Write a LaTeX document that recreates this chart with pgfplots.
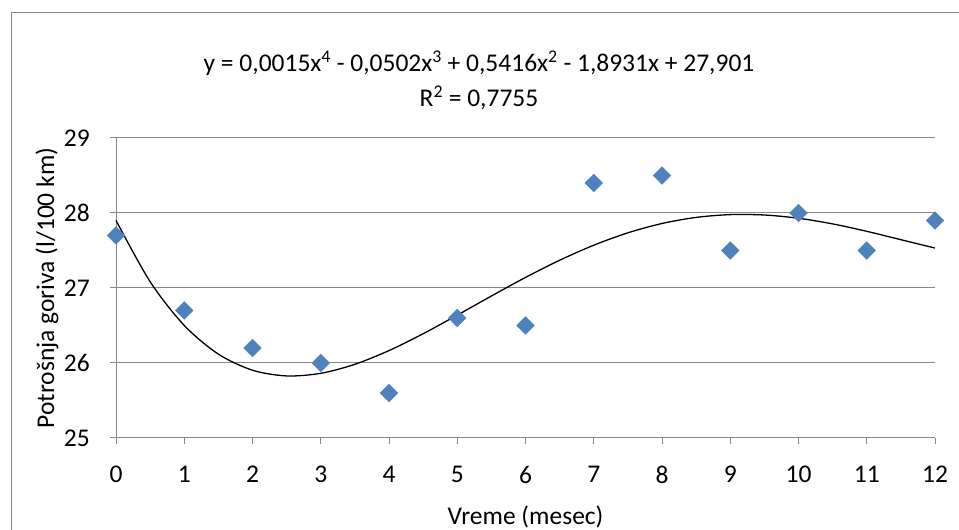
\documentclass[border=0pt]{standalone}
\usepackage{fontspec}
\setmainfont{Carlito}
\usepackage{pgfplots}
\pgfplotsset{compat=1.18}
\definecolor{mblue}{HTML}{4F81BD}
\definecolor{ggray}{HTML}{868686}
\newcommand\cf{\fontsize{25.5}{30}\selectfont}
\begin{document}
\begin{tikzpicture}[x=1pt,y=1pt]
\useasboundingbox (0,0) rectangle (959,530);
\clip (0,0) rectangle (959,530);
\draw[ggray, line width=1pt] (11,-20) -- (11,517) -- (980,517);
\node[font=\cf, anchor=base] at (479,458) {y = 0,0015x\textsuperscript{4} - 0,0502x\textsuperscript{3} + 0,5416x\textsuperscript{2} - 1,8931x + 27,901};
\node[font=\cf, anchor=base] at (479,423) {R\textsuperscript{2} = 0,7755};
\begin{axis}[
  at={(116pt,92pt)}, anchor=south west,
  scale only axis, width=819pt, height=300pt,
  xmin=0, xmax=12, ymin=25, ymax=29,
  xtick={0,...,12}, ytick={25,...,29},
  axis x line*=bottom, axis y line*=left,
  axis line style={ggray, line width=1pt, -},
  tick style={ggray, line width=1pt},
  tick align=outside, major tick length=6pt,
  ymajorgrids, grid style={ggray, line width=1pt},
  every tick label/.append style={font=\cf},
  yticklabel style={anchor=east, inner sep=0pt, xshift=-20pt},
  xticklabel style={anchor=north, inner sep=0pt, yshift=-22pt},
  /pgf/number format/assume math mode=true,
  xlabel={Vreme (mesec)}, ylabel={Potrošnja goriva (l/100 km)},
  label style={font=\cf},
  xlabel style={at={(axis description cs:0.5,-0.263)}, anchor=center},
  ylabel style={at={(axis description cs:-0.0842,0.5)}, anchor=center, rotate=0},
  clip=false,
]
\addplot[black, line width=1.3pt, smooth] coordinates {
(0,27.901) (0.5,27.0837) (1,26.5008) (1.5,26.1181) (2,25.9036) (2.5,25.8275)
(3,25.8622) (3.5,25.9825) (4,26.1654) (4.5,26.3901) (5,26.638) (5.5,26.8929)
(6,27.1408) (6.5,27.3699) (7,27.5706) (7.5,27.7357) (8,27.8602) (8.5,27.9413)
(9,27.9784) (9.5,27.9733) (10,27.93) (10.5,27.8547) (11,27.7558) (11.5,27.6441) (12,27.5326)};
\addplot[only marks, mark=square*, mark size=6.3pt, mark options={rotate=45, fill=mblue, draw=mblue}] coordinates {
(0,27.7) (1,26.7) (2,26.2) (3,26.0) (4,25.6) (5,26.6) (6,26.5)
(7,28.4) (8,28.5) (9,27.5) (10,28.0) (11,27.5) (12,27.9)};
\end{axis}
\end{tikzpicture}
\end{document}
